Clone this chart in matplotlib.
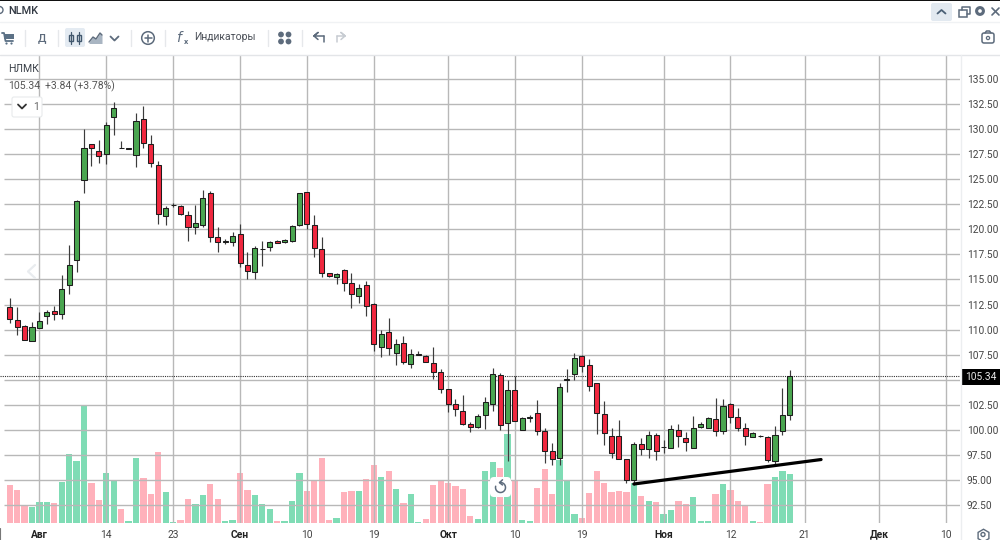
import matplotlib
matplotlib.use('Agg')
import matplotlib.pyplot as plt
from matplotlib.patches import Rectangle, Circle, FancyBboxPatch
import numpy as np

plt.rcParams['font.family'] = ['Roboto', 'DejaVu Sans']

# daily candles, oldest first
opens = [112.25, 110.92, 110.32, 108.89, 110.16, 111.35, 111.82, 111.52, 114.48, 116.94,
         124.90, 128.55, 127.82, 127.49, 131.18, 128.10, 128.05, 127.39, 131.01, 128.55,
         126.39, 121.30, 122.42, 122.29, 121.43, 120.27, 120.46, 123.59, 119.23, 118.77,
         118.77, 119.57, 116.44, 115.71, 118.04, 118.20, 118.80, 118.74, 118.84, 120.46,
         123.72, 120.43, 118.07, 115.64, 115.28, 115.94, 114.61, 113.32, 114.45, 112.58,
         108.29, 109.79, 107.70, 108.66, 106.54, 107.50, 107.33, 106.70, 105.77, 104.04,
         102.55, 101.92, 100.59, 100.32, 101.45, 102.55, 105.44, 100.72, 103.94, 99.95,
         101.22, 101.65, 99.92, 97.93, 97.23, 105.02, 105.57, 107.34, 106.47, 104.64,
         101.62, 99.36, 99.36, 97.13, 95.00, 98.59, 98.06, 99.52, 98.26, 98.22,
         99.95, 99.19, 98.16, 100.29, 100.22, 101.05, 99.85, 102.55, 101.28, 100.19,
         99.32, 99.42, 99.29, 96.86, 99.85, 101.48]
highs = [113.18, 112.22, 110.49, 110.72, 111.72, 111.95, 112.35, 115.41, 118.47, 122.92,
         129.98, 128.55, 128.92, 130.74, 132.67, 128.85, 128.07, 131.64, 132.31, 129.38,
         126.85, 122.33, 122.66, 122.39, 121.86, 122.43, 123.92, 123.82, 120.20, 119.00,
         119.70, 120.50, 117.70, 118.37, 118.87, 118.87, 118.94, 119.03, 120.43, 123.66,
         123.76, 121.43, 119.20, 115.64, 115.61, 116.00, 115.68, 114.55, 114.88, 112.62,
         109.96, 111.19, 109.09, 109.39, 108.03, 107.86, 107.46, 108.26, 106.07, 104.04,
         103.11, 103.45, 100.82, 101.58, 103.25, 106.14, 105.71, 104.97, 105.37, 101.28,
         101.48, 102.98, 100.22, 98.66, 104.64, 106.04, 107.67, 107.50, 107.07, 104.64,
         102.85, 100.15, 100.98, 97.13, 98.82, 99.16, 99.92, 99.72, 98.99, 100.49,
         100.59, 99.82, 101.42, 100.79, 101.25, 103.21, 103.11, 102.71, 102.15, 100.65,
         99.82, 99.52, 99.39, 100.39, 104.14, 105.94]
lows = [110.62, 109.43, 108.93, 108.89, 110.16, 110.59, 110.92, 111.02, 113.52, 115.78,
        123.59, 126.35, 126.59, 126.52, 129.41, 128.08, 128.05, 126.19, 128.08, 126.25,
        120.50, 120.40, 122.19, 121.46, 118.87, 119.53, 120.27, 118.70, 117.77, 118.54,
        118.30, 116.21, 115.00, 115.00, 116.34, 117.80, 118.60, 118.67, 118.77, 120.33,
        120.07, 117.27, 115.28, 115.24, 114.55, 113.85, 112.19, 112.62, 111.39, 107.86,
        107.30, 107.50, 106.47, 106.60, 106.14, 107.50, 106.74, 105.04, 103.65, 101.82,
        101.42, 100.49, 99.82, 100.15, 100.12, 101.92, 99.99, 96.86, 100.85, 99.95,
        100.75, 99.49, 96.66, 96.50, 96.50, 103.74, 104.97, 105.74, 103.91, 99.56,
        98.50, 97.16, 97.06, 94.73, 94.50, 97.53, 97.16, 96.99, 97.66, 98.16,
        98.26, 97.89, 98.16, 100.22, 100.15, 99.39, 99.59, 100.65, 99.89, 98.52,
        99.29, 99.30, 96.76, 96.63, 99.49, 100.95]
closes = [111.09, 110.22, 108.93, 110.26, 110.89, 111.72, 111.52, 114.01, 116.41, 122.83,
          128.12, 128.08, 127.29, 130.38, 132.07, 128.08, 128.07, 130.81, 128.58, 126.65,
          121.53, 122.13, 122.44, 121.53, 120.27, 120.66, 123.16, 119.27, 118.77, 118.79,
          119.33, 116.64, 115.84, 118.17, 118.06, 118.77, 118.67, 118.97, 120.37, 123.62,
          120.50, 118.10, 115.61, 115.31, 115.58, 114.65, 113.52, 114.18, 112.38, 108.53,
          109.59, 108.13, 108.53, 106.74, 107.53, 107.56, 106.74, 105.77, 104.08, 102.55,
          102.05, 100.59, 100.32, 101.38, 102.75, 105.54, 100.45, 103.94, 100.92, 101.22,
          101.24, 99.92, 97.93, 97.06, 104.24, 105.04, 107.16, 106.37, 104.38, 101.65,
          99.66, 97.66, 97.13, 95.03, 98.59, 98.06, 99.46, 97.86, 98.28, 100.05,
          99.36, 98.82, 100.22, 100.59, 101.15, 99.85, 102.42, 101.32, 100.22, 99.36,
          99.66, 99.40, 96.96, 99.46, 101.45, 105.34]
volumes = [115, 101, 55, 48, 65, 65, 60, 124, 208, 188, 351, 120, 70, 150, 129, 42, 7, 195, 135, 89,
           213, 94, 4, 9, 74, 58, 86, 119, 72, 7, 9, 150, 99, 84, 58, 42, 6, 7, 68, 150,
           97, 129, 195, 9, 16, 94, 98, 98, 134, 176, 138, 157, 103, 60, 89, 4, 13, 115, 128, 122,
           112, 104, 23, 13, 157, 183, 165, 268, 129, 9, 7, 106, 163, 89, 190, 129, 28, 16, 90, 157,
           120, 94, 97, 94, 122, 82, 66, 63, 28, 40, 66, 58, 79, 6, 7, 89, 117, 100, 68, 55,
           7, 5, 117, 138, 158, 149]

price_ticks = [92.5, 95, 97.5, 100, 102.5, 105, 107.5, 110, 112.5, 115, 117.5, 120,
               122.5, 125, 127.5, 130, 132.5, 135]
date_pos = [4, 13, 22, 31, 40, 49, 59, 68, 77, 88, 97, 107, 117, 126]
date_labels = ['Авг', '14', '23', 'Сен', '10', '19', 'Окт', '10', '19', 'Ноя', '12', '21', 'Дек', '10']
months = ['Авг', 'Сен', 'Окт', 'Ноя', 'Дек']
last_price = 105.34
trend_x = [84.0, 109.2]
trend_y = [94.6, 97.04]

GREEN = '#4aa650'
RED = '#f0283f'
VOL_GREEN = '#7fdcb5'
VOL_RED = '#ffb1bb'
GRID = '#b8b8b8'
TEXT = '#4a4f57'
ICON = '#5d6b7c'

W, H = 1000, 540
fig = plt.figure(figsize=(W / 100, H / 100), dpi=100, facecolor='white')
rect = [0, (H - 523.3) / H, 960 / W, (523.3 - 55) / H]
x = np.arange(len(opens))
up = np.array(closes) >= np.array(opens)

# volume sits underneath the grid
ax_vol = fig.add_axes(rect, zorder=1)
ax_vol.bar(x, volumes, width=0.84, color=[VOL_GREEN if u else VOL_RED for u in up], linewidth=0)
ax_vol.set_xlim(-1.305, 127.9)
ax_vol.set_ylim(0, 1405)
ax_vol.axis('off')

ax = fig.add_axes(rect, zorder=2)
ax.patch.set_alpha(0)
ax.set_xlim(-1.305, 127.9)
ax.set_ylim(90.68, 137.39)
for s in ax.spines.values():
    s.set_visible(False)

ax.hlines(price_ticks, -0.77, 127.9, color=GRID, lw=1.0, zorder=1)
ax.vlines(date_pos, 90.68, 137.39, color=GRID, lw=1.0, zorder=1)

ax.vlines(x, lows, highs, color='#3c3c3c', lw=0.85, zorder=3)
ax.bar(x, np.abs(np.array(closes) - np.array(opens)), bottom=np.minimum(opens, closes), width=0.68,
       color=[GREEN if u else RED for u in up], edgecolor='#1d1d1d', linewidth=0.75, zorder=4)
ax.axhline(last_price, color='#333333', lw=0.8, ls=(0, (1, 1)), zorder=2)
ax.plot(trend_x, trend_y, color='black', lw=2.3, solid_capstyle='round', zorder=5)

# the 105.00 label is left out, the last price tag takes its place
ax.yaxis.tick_right()
ax.set_yticks(price_ticks)
ax.set_yticklabels(['' if p == 105 else '%.2f' % p for p in price_ticks])
ax.tick_params(axis='y', length=0, pad=5, labelsize=7.3, labelcolor='#444444')
ax.set_xticks(date_pos)
ax.set_xticklabels(date_labels)
ax.tick_params(axis='x', length=0, pad=4.5, labelsize=7.4, labelcolor='#444444')
for t in ax.get_xticklabels():
    if t.get_text() in months:
        t.set_fontweight('bold')
        t.set_color('#222222')

# toolbars and overlays, laid out in pixels
ui = fig.add_axes([0, 0, 1, 1], zorder=3)
ui.set_xlim(0, W)
ui.set_ylim(H, 0)
ui.axis('off')
ui.patch.set_alpha(0)


def box(x0, y0, w, h, color, r=2, ec='none', lw=0):
    ui.add_patch(FancyBboxPatch((x0 + r, y0 + r), w - 2 * r, h - 2 * r, boxstyle='round,pad=%s' % r,
                                fc=color, ec=ec, lw=lw))


def stroke(xs, ys, color=ICON, lw=1.2):
    ui.plot(xs, ys, color=color, lw=lw, solid_capstyle='round', solid_joinstyle='round')


ui.add_patch(Rectangle((0, 0), W, 1.2, fc='#111111', ec='none'))
ui.add_patch(Rectangle((0, 1.2), W, 53.8, fc='white', ec='none'))
stroke([0, W], [21.5, 21.5], '#f0f2f4', 1)
stroke([0, W], [54.5, 54.5], '#e3e5e8', 1)
stroke([960.5, 960.5], [55, 540], '#eceef0', 1)
stroke([0.3, 0.3], [528, 540], '#777777', 0.8)
for sx in [25, 58, 131, 165, 268, 302]:
    stroke([sx, sx], [30, 46], '#e6e8eb', 1)

ui.text(8.5, 10.5, 'NLMK', fontsize=7.9, color='#333a44', fontweight='medium', va='center')
ui.add_patch(Circle((-0.5, 10), 3.5, fc='none', ec=ICON, lw=1))

# cart
stroke([2, 4, 5.5, 13], [33, 33, 41, 41], '#5c7186', 1.3)
ui.add_patch(Rectangle((4, 34), 9.5, 5, fc='#5c7186', ec='none'))
ui.add_patch(Circle((6.5, 43.5), 1.1, fc='#5c7186', ec='none'))
ui.add_patch(Circle((11.5, 43.5), 1.1, fc='#5c7186', ec='none'))
ui.text(41.5, 38, 'Д', fontsize=8, color=ICON, ha='center', va='center', fontweight='medium')

# chart type switch
box(65, 28, 20, 19, '#e4ebf2')
for cx in [71, 79]:
    stroke([cx, cx], [32, 44], '#42586e', 0.9)
    ui.add_patch(Rectangle((cx - 1.8, 34.5), 3.6, 6, fc='#e4ebf2', ec='#42586e', lw=1))
stroke([89, 93, 96, 100, 102], [42, 37, 39, 33, 35], ICON, 1)
ui.fill_between([89, 93, 96, 100, 102], [42, 37, 39, 33, 35], [43.5] * 5, color='#a9b5c2', lw=0)
stroke([110.5, 114.5, 118.5], [36.5, 40.5, 36.5], ICON, 1.3)

ui.add_patch(Circle((148, 38), 6.3, fc='none', ec=ICON, lw=1.1))
stroke([148, 148], [34.5, 41.5], ICON, 1.1)
stroke([144.5, 151.5], [38, 38], ICON, 1.1)

ui.text(176, 37.5, r'$\mathit{f}$', fontsize=10, color=ICON, va='center')
ui.text(184, 41.5, 'x', fontsize=6, color=ICON, va='center', fontweight='bold')
ui.text(194.5, 37.5, 'Индикаторы', fontsize=7.5, color=TEXT, va='center')

for dx, dy in [(281, 34.5), (288.5, 34.5), (281, 41.5), (288.5, 41.5)]:
    ui.add_patch(Circle((dx, dy), 2.9, fc=ICON, ec='none'))

stroke([324, 314, 318, 314, 318], [36, 36, 32.5, 36, 39.5], ICON, 1.1)
stroke([324, 324], [36, 42], ICON, 1.1)
stroke([337, 345, 341, 345, 341], [36, 36, 32.5, 36, 39.5], '#c7ccd2', 1.1)
stroke([337, 337], [36, 42], '#c7ccd2', 1.1)

# camera
box(982, 33, 12, 10, 'none', r=2, ec=ICON, lw=1.1)
stroke([985, 986.5, 989.5, 991], [33, 31, 31, 33], ICON, 1.1)
ui.add_patch(Circle((988, 38), 1.6, fc='none', ec=ICON, lw=0.9))

# window controls
box(931, 3, 21, 18, '#e2e9f0')
stroke([937.5, 941.5, 945.5], [13.5, 10, 13.5], '#4b6076', 1.3)
ui.add_patch(Rectangle((959, 9.5), 7.5, 7.5, fc='none', ec=ICON, lw=1.1))
stroke([962, 962, 969.5, 969.5, 966.5], [9.5, 7, 7, 14, 14], ICON, 1.1)
ui.add_patch(Circle((980, 11), 3.4, fc='none', ec=ICON, lw=2.2))
stroke([992, 999], [8, 15], ICON, 1.2)
stroke([992, 999], [15, 8], ICON, 1.2)

# legend block
ui.text(8, 68.5, 'НЛМК', fontsize=7.6, color='#3d434b', va='center')
ui.text(8, 86, '105.34', fontsize=7.5, color='#555555', va='center')
ui.text(45, 86, '+3.84 (+3.78%)', fontsize=7.5, color='#555555', va='center')
box(12, 97, 30, 20, 'white', r=2, ec='#e8eaec', lw=0.8)
stroke([18, 22, 26], [104.5, 108.5, 104.5], '#333333', 1.3)
ui.text(33, 106.5, '1', fontsize=7.6, color='#666666', va='center')

# faint scroll arrow
stroke([35, 28, 35], [265, 271.5, 278], '#e9ecef', 1.6)

# reset button over the volume bars
box(490, 477, 21, 20, 'white', r=4)
t = np.linspace(-1.75, 3.4, 30)
stroke(500.5 + 5 * np.cos(t), 487.5 + 5 * np.sin(t), ICON, 1.1)
stroke([502.5, 499.5, 502.5], [479.8, 482.6, 485], ICON, 1.1)

# last price tag
ui.add_patch(Rectangle((960.5, 369), 39.5, 15.5, fc='black', ec='none'))
ui.text(981, 377, '%.2f' % last_price, fontsize=7.3, color='#e8e8e8', ha='center', va='center')

# settings glyph under the scale
ui.add_patch(Circle((983, 534.5), 2, fc='none', ec=ICON, lw=1))
ui.plot(983, 534.5, marker='h', ms=9, mfc='none', mec=ICON, mew=1)

fig.savefig('out.png', dpi=100)
